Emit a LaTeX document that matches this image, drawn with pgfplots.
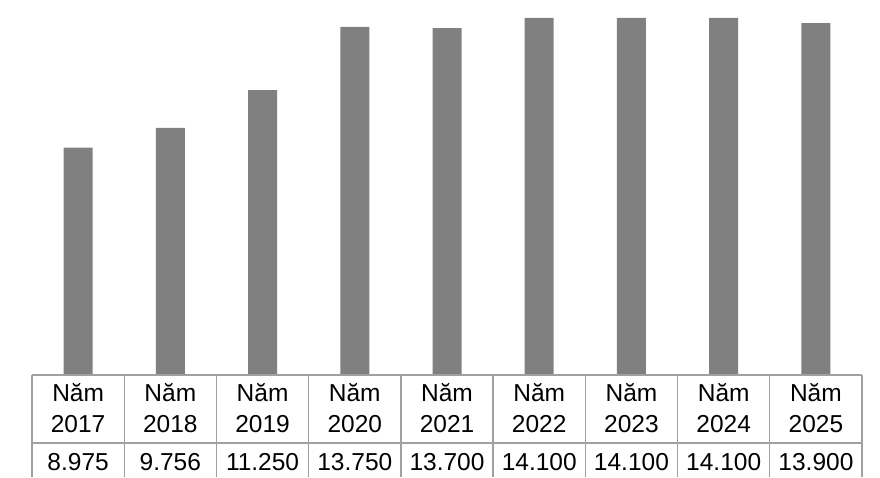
\documentclass[border=0pt]{standalone}
\usepackage{pgfplots}
\pgfplotsset{compat=1.18}
\usepackage{pgfplotstable}
\usepackage{fontspec}
\setmainfont{Liberation Sans}

\definecolor{barfill}{RGB}{128,128,128}
\definecolor{gridline}{RGB}{160,160,160}

% year index, value
\pgfplotstableread{
x v
0 8975
1 9756
2 11250
3 13750
4 13700
5 14100
6 14100
7 14100
8 13900
}\datatable

\newcommand\cellfont{\fontsize{24.5}{28}\selectfont}

\begin{document}
\begin{tikzpicture}
\begin{axis}[
  scale only axis,
  width=880pt, height=477pt,
  xmin=-0.847, xmax=8.695,
  ymin=-4028, ymax=14810,
  hide axis,
  clip=false,
  /pgf/number format/.cd, fixed, precision=0, 1000 sep={.}, assume math mode=true,
]
% keep the full frame as the picture's extent
\path (rel axis cs:0,0) rectangle (rel axis cs:1,1);

% bars
\addplot[ybar, bar width=29pt, fill=barfill, draw=none] table[x=x, y=v] {\datatable};

% table grid below the bars
\draw[gridline, line width=1.3pt] (axis cs:-0.5,0) -- (axis cs:8.5,0);
\draw[gridline, line width=1.3pt] (axis cs:-0.5,-2686) -- (axis cs:8.5,-2686);
\pgfplotsinvokeforeach{-0.5,0.5,1.5,2.5,3.5,4.5,5.5,6.5,7.5,8.5}{
  \draw[gridline, line width=1.3pt] (axis cs:#1,0) -- (axis cs:#1,-4028);
}

% header cells
\pgfplotsinvokeforeach{0,...,8}{
  \node[anchor=base, inner sep=0pt, font=\cellfont] at (axis cs:#1,-1066) {Năm};
}
\foreach \i/\yr in {0/2017,1/2018,2/2019,3/2020,4/2021,5/2022,6/2023,7/2024,8/2025}{
  \edef\tmp{\noexpand\node[anchor=base, inner sep=0pt, font=\noexpand\cellfont] at (axis cs:\i,-2251) {\yr};}
  \tmp
}

% value row
\addplot[draw=none, mark=none, point meta=explicit,
  nodes near coords={\pgfmathprintnumber{\pgfplotspointmeta}},
  every node near coord/.style={anchor=base, inner sep=0pt, font=\cellfont}]
  table[x=x, y expr=-3752, meta=v] {\datatable};
\end{axis}
\end{tikzpicture}
\end{document}
